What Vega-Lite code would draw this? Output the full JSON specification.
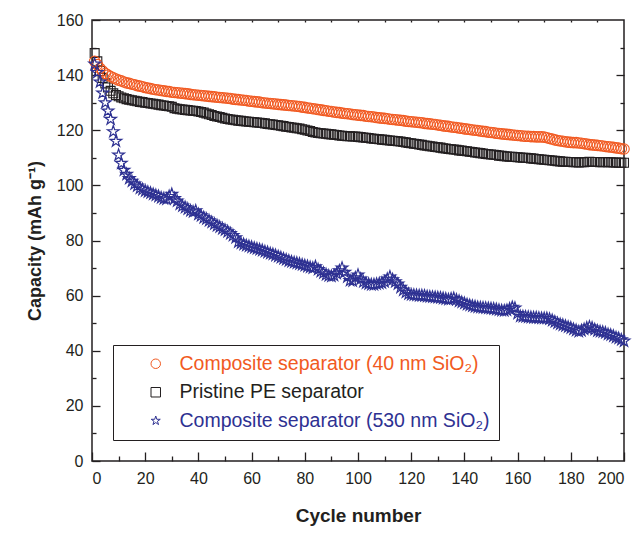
{
"$schema": "https://vega.github.io/schema/vega-lite/v6.json",
"width": 532, "height": 441,
"autosize": "none",
"padding": {"left": 92, "top": 20, "right": 16, "bottom": 72},
"background": "white",
"config": {"view": {"stroke": "#231f20", "strokeWidth": 1.5}, "font": "Liberation Sans",
"axis": {"domain": false, "grid": false, "ticks": true, "zindex": 1, "tickColor": "#231f20", "tickWidth": 1.3, "tickOpacity": 1, "labelColor": "#231f20", "titleColor": "#231f20"}},
"data": {"values": [
{"c":1,"c40":145.0,"pe":148.0,"c530":144.0},{"c":2,"c40":143.8,"pe":145.0,"c530":141.0},{"c":3,"c40":142.5,"pe":141.5,"c530":137.5},{"c":4,"c40":141.5,"pe":139.0,"c530":133.5},{"c":5,"c40":140.6,"pe":137.0,"c530":130.0},
{"c":6,"c40":140.0,"pe":135.5,"c530":127.0},{"c":7,"c40":139.5,"pe":134.3,"c530":124.0},{"c":8,"c40":139.0,"pe":133.4,"c530":119.5},{"c":9,"c40":138.6,"pe":132.8,"c530":116.0},{"c":10,"c40":138.2,"pe":132.3,"c530":111.0},
{"c":11,"c40":137.9,"pe":131.9,"c530":108.0},{"c":12,"c40":137.5,"pe":131.6,"c530":105.5},{"c":13,"c40":137.2,"pe":131.3,"c530":104.0},{"c":14,"c40":137.0,"pe":131.1,"c530":102.5},{"c":15,"c40":136.7,"pe":130.9,"c530":101.5},
{"c":16,"c40":136.5,"pe":130.7,"c530":100.5},{"c":17,"c40":136.2,"pe":130.5,"c530":99.8},{"c":18,"c40":136.0,"pe":130.3,"c530":99.0},{"c":19,"c40":135.8,"pe":130.2,"c530":98.5},{"c":20,"c40":135.5,"pe":130.0,"c530":98.0},
{"c":21,"c40":135.3,"pe":129.9,"c530":97.6},{"c":22,"c40":135.1,"pe":129.7,"c530":97.2},{"c":23,"c40":134.9,"pe":129.6,"c530":96.8},{"c":24,"c40":134.7,"pe":129.4,"c530":96.4},{"c":25,"c40":134.6,"pe":129.3,"c530":96.0},
{"c":26,"c40":134.4,"pe":129.1,"c530":95.5},{"c":27,"c40":134.3,"pe":129.0,"c530":95.2},{"c":28,"c40":134.1,"pe":128.8,"c530":95.0},{"c":29,"c40":134.0,"pe":128.7,"c530":96.0},{"c":30,"c40":133.8,"pe":128.5,"c530":96.8},
{"c":31,"c40":133.7,"pe":128.0,"c530":95.2},{"c":32,"c40":133.6,"pe":127.8,"c530":94.3},{"c":33,"c40":133.5,"pe":127.6,"c530":93.2},{"c":34,"c40":133.4,"pe":127.5,"c530":92.5},{"c":35,"c40":133.3,"pe":127.4,"c530":92.0},
{"c":36,"c40":133.2,"pe":127.3,"c530":91.4},{"c":37,"c40":133.0,"pe":127.2,"c530":90.8},{"c":38,"c40":132.9,"pe":127.1,"c530":90.4},{"c":39,"c40":132.8,"pe":127.0,"c530":90.8},{"c":40,"c40":132.7,"pe":126.8,"c530":89.5},
{"c":41,"c40":132.6,"pe":126.6,"c530":89.0},{"c":42,"c40":132.5,"pe":126.4,"c530":88.3},{"c":43,"c40":132.4,"pe":126.1,"c530":87.8},{"c":44,"c40":132.3,"pe":125.8,"c530":87.2},{"c":45,"c40":132.2,"pe":125.5,"c530":86.6},
{"c":46,"c40":132.1,"pe":125.2,"c530":86.0},{"c":47,"c40":132.0,"pe":125.0,"c530":85.4},{"c":48,"c40":131.9,"pe":124.8,"c530":84.9},{"c":49,"c40":131.8,"pe":124.5,"c530":84.3},{"c":50,"c40":131.7,"pe":124.3,"c530":83.8},
{"c":51,"c40":131.6,"pe":124.1,"c530":83.2},{"c":52,"c40":131.5,"pe":123.9,"c530":82.5},{"c":53,"c40":131.3,"pe":123.8,"c530":81.8},{"c":54,"c40":131.2,"pe":123.6,"c530":81.0},{"c":55,"c40":131.1,"pe":123.5,"c530":79.5},
{"c":56,"c40":131.0,"pe":123.4,"c530":79.0},{"c":57,"c40":130.9,"pe":123.3,"c530":78.6},{"c":58,"c40":130.8,"pe":123.2,"c530":78.2},{"c":59,"c40":130.6,"pe":123.1,"c530":77.9},{"c":60,"c40":130.5,"pe":123.0,"c530":77.6},
{"c":61,"c40":130.4,"pe":122.9,"c530":77.3},{"c":62,"c40":130.3,"pe":122.8,"c530":77.0},{"c":63,"c40":130.2,"pe":122.7,"c530":76.7},{"c":64,"c40":130.0,"pe":122.6,"c530":76.4},{"c":65,"c40":129.9,"pe":122.5,"c530":76.0},
{"c":66,"c40":129.8,"pe":122.3,"c530":75.7},{"c":67,"c40":129.7,"pe":122.2,"c530":75.3},{"c":68,"c40":129.6,"pe":122.1,"c530":75.0},{"c":69,"c40":129.5,"pe":121.9,"c530":74.6},{"c":70,"c40":129.4,"pe":121.8,"c530":74.2},
{"c":71,"c40":129.3,"pe":121.6,"c530":73.8},{"c":72,"c40":129.2,"pe":121.5,"c530":73.4},{"c":73,"c40":129.1,"pe":121.3,"c530":73.0},{"c":74,"c40":129.0,"pe":121.2,"c530":72.6},{"c":75,"c40":128.9,"pe":121.0,"c530":72.3},
{"c":76,"c40":128.8,"pe":120.9,"c530":72.0},{"c":77,"c40":128.7,"pe":120.7,"c530":71.8},{"c":78,"c40":128.6,"pe":120.6,"c530":71.5},{"c":79,"c40":128.4,"pe":120.4,"c530":71.2},{"c":80,"c40":128.3,"pe":120.2,"c530":70.9},
{"c":81,"c40":128.1,"pe":119.9,"c530":70.6},{"c":82,"c40":128.0,"pe":119.7,"c530":70.3},{"c":83,"c40":127.8,"pe":119.4,"c530":70.0},{"c":84,"c40":127.7,"pe":119.2,"c530":70.5},{"c":85,"c40":127.5,"pe":119.0,"c530":69.5},
{"c":86,"c40":127.4,"pe":118.9,"c530":68.8},{"c":87,"c40":127.2,"pe":118.8,"c530":68.2},{"c":88,"c40":127.1,"pe":118.7,"c530":67.6},{"c":89,"c40":126.9,"pe":118.6,"c530":67.2},{"c":90,"c40":126.8,"pe":118.5,"c530":67.0},
{"c":91,"c40":126.6,"pe":118.4,"c530":67.3},{"c":92,"c40":126.5,"pe":118.3,"c530":68.0},{"c":93,"c40":126.4,"pe":118.1,"c530":69.0},{"c":94,"c40":126.2,"pe":118.0,"c530":70.0},{"c":95,"c40":126.1,"pe":117.9,"c530":68.5},
{"c":96,"c40":126.0,"pe":117.8,"c530":66.8},{"c":97,"c40":125.9,"pe":117.8,"c530":65.5},{"c":98,"c40":125.7,"pe":117.7,"c530":65.3},{"c":99,"c40":125.6,"pe":117.7,"c530":66.5},{"c":100,"c40":125.5,"pe":117.6,"c530":67.5},
{"c":101,"c40":125.4,"pe":117.5,"c530":66.0},{"c":102,"c40":125.3,"pe":117.4,"c530":65.0},{"c":103,"c40":125.1,"pe":117.3,"c530":64.5},{"c":104,"c40":125.0,"pe":117.2,"c530":64.2},{"c":105,"c40":124.9,"pe":117.0,"c530":64.0},
{"c":106,"c40":124.8,"pe":116.9,"c530":64.0},{"c":107,"c40":124.6,"pe":116.8,"c530":64.2},{"c":108,"c40":124.5,"pe":116.7,"c530":64.4},{"c":109,"c40":124.4,"pe":116.6,"c530":64.6},{"c":110,"c40":124.3,"pe":116.5,"c530":65.0},
{"c":111,"c40":124.2,"pe":116.4,"c530":66.0},{"c":112,"c40":124.0,"pe":116.3,"c530":66.8},{"c":113,"c40":123.9,"pe":116.2,"c530":65.8},{"c":114,"c40":123.8,"pe":116.1,"c530":65.0},{"c":115,"c40":123.7,"pe":116.0,"c530":64.2},
{"c":116,"c40":123.6,"pe":115.9,"c530":63.0},{"c":117,"c40":123.5,"pe":115.7,"c530":62.0},{"c":118,"c40":123.3,"pe":115.6,"c530":61.2},{"c":119,"c40":123.2,"pe":115.4,"c530":60.6},{"c":120,"c40":123.1,"pe":115.3,"c530":60.3},
{"c":121,"c40":123.0,"pe":115.1,"c530":60.2},{"c":122,"c40":122.9,"pe":115.0,"c530":60.1},{"c":123,"c40":122.8,"pe":114.8,"c530":60.0},{"c":124,"c40":122.7,"pe":114.7,"c530":60.0},{"c":125,"c40":122.5,"pe":114.5,"c530":59.9},
{"c":126,"c40":122.4,"pe":114.4,"c530":59.7},{"c":127,"c40":122.3,"pe":114.2,"c530":59.6},{"c":128,"c40":122.2,"pe":114.1,"c530":59.5},{"c":129,"c40":122.1,"pe":113.9,"c530":59.4},{"c":130,"c40":121.9,"pe":113.8,"c530":59.3},
{"c":131,"c40":121.8,"pe":113.7,"c530":59.2},{"c":132,"c40":121.6,"pe":113.5,"c530":59.0},{"c":133,"c40":121.5,"pe":113.4,"c530":58.8},{"c":134,"c40":121.4,"pe":113.2,"c530":58.6},{"c":135,"c40":121.2,"pe":113.1,"c530":58.8},
{"c":136,"c40":121.1,"pe":113.0,"c530":59.0},{"c":137,"c40":121.0,"pe":112.9,"c530":58.5},{"c":138,"c40":120.8,"pe":112.7,"c530":58.0},{"c":139,"c40":120.7,"pe":112.6,"c530":57.6},{"c":140,"c40":120.5,"pe":112.5,"c530":57.2},
{"c":141,"c40":120.4,"pe":112.4,"c530":56.8},{"c":142,"c40":120.3,"pe":112.2,"c530":56.5},{"c":143,"c40":120.1,"pe":112.1,"c530":56.2},{"c":144,"c40":120.0,"pe":111.9,"c530":56.0},{"c":145,"c40":119.9,"pe":111.8,"c530":55.8},
{"c":146,"c40":119.7,"pe":111.7,"c530":55.7},{"c":147,"c40":119.6,"pe":111.6,"c530":55.6},{"c":148,"c40":119.5,"pe":111.4,"c530":55.5},{"c":149,"c40":119.3,"pe":111.3,"c530":55.4},{"c":150,"c40":119.2,"pe":111.2,"c530":55.3},
{"c":151,"c40":119.1,"pe":111.1,"c530":55.2},{"c":152,"c40":118.9,"pe":111.0,"c530":55.0},{"c":153,"c40":118.8,"pe":110.8,"c530":54.8},{"c":154,"c40":118.7,"pe":110.7,"c530":54.6},{"c":155,"c40":118.6,"pe":110.6,"c530":54.5},
{"c":156,"c40":118.5,"pe":110.5,"c530":54.7},{"c":157,"c40":118.4,"pe":110.4,"c530":55.2},{"c":158,"c40":118.3,"pe":110.4,"c530":55.8},{"c":159,"c40":118.2,"pe":110.3,"c530":55.5},{"c":160,"c40":118.1,"pe":110.2,"c530":53.5},
{"c":161,"c40":118.0,"pe":110.1,"c530":52.5},{"c":162,"c40":117.9,"pe":110.0,"c530":52.4},{"c":163,"c40":117.8,"pe":110.0,"c530":52.3},{"c":164,"c40":117.8,"pe":109.9,"c530":52.2},{"c":165,"c40":117.7,"pe":109.8,"c530":52.1},
{"c":166,"c40":117.7,"pe":109.7,"c530":52.0},{"c":167,"c40":117.6,"pe":109.6,"c530":52.0},{"c":168,"c40":117.6,"pe":109.5,"c530":51.9},{"c":169,"c40":117.6,"pe":109.4,"c530":51.8},{"c":170,"c40":117.5,"pe":109.3,"c530":51.8},
{"c":171,"c40":117.3,"pe":109.2,"c530":51.8},{"c":172,"c40":117.0,"pe":109.1,"c530":51.5},{"c":173,"c40":116.8,"pe":109.0,"c530":51.0},{"c":174,"c40":116.5,"pe":108.9,"c530":50.5},{"c":175,"c40":116.3,"pe":108.8,"c530":50.0},
{"c":176,"c40":116.1,"pe":108.7,"c530":49.6},{"c":177,"c40":116.0,"pe":108.6,"c530":49.3},{"c":178,"c40":115.8,"pe":108.6,"c530":49.0},{"c":179,"c40":115.7,"pe":108.5,"c530":48.6},{"c":180,"c40":115.6,"pe":108.5,"c530":48.3},
{"c":181,"c40":115.5,"pe":108.4,"c530":47.8},{"c":182,"c40":115.5,"pe":108.4,"c530":47.4},{"c":183,"c40":115.4,"pe":108.3,"c530":47.0},{"c":184,"c40":115.3,"pe":108.4,"c530":47.3},{"c":185,"c40":115.1,"pe":108.4,"c530":47.8},
{"c":186,"c40":115.0,"pe":108.5,"c530":48.3},{"c":187,"c40":114.8,"pe":108.6,"c530":48.7},{"c":188,"c40":114.7,"pe":108.5,"c530":48.3},{"c":189,"c40":114.6,"pe":108.5,"c530":47.7},{"c":190,"c40":114.5,"pe":108.5,"c530":47.2},
{"c":191,"c40":114.4,"pe":108.4,"c530":47.0},{"c":192,"c40":114.3,"pe":108.4,"c530":46.8},{"c":193,"c40":114.1,"pe":108.5,"c530":46.5},{"c":194,"c40":114.0,"pe":108.4,"c530":46.0},{"c":195,"c40":113.9,"pe":108.4,"c530":45.7},
{"c":196,"c40":113.8,"pe":108.3,"c530":45.3},{"c":197,"c40":113.6,"pe":108.3,"c530":44.8},{"c":198,"c40":113.5,"pe":108.2,"c530":44.5},{"c":199,"c40":113.3,"pe":108.2,"c530":44.0},{"c":200,"c40":113.2,"pe":108.2,"c530":43.5}
]},
"transform": [{"fold": ["c40", "pe", "c530"], "as": ["series", "cap"]}],
"layer": [
{
"transform": [{"filter": "datum.series === 'pe'"}],
"mark": {"type": "point", "filled": false, "strokeWidth": 1.1, "size": 80, "opacity": 1},
"encoding": {
"x": {"field": "c", "type": "quantitative", "scale": {"domain": [0, 200], "nice": false},
"axis": {"orient": "bottom", "values": [0,20,40,60,80,100,120,140,160,180,200],
"offset": -9, "tickSize": 9, "labelFontSize": 16, "labelPadding": 9,
"title": "Cycle number", "titleFontSize": 19, "titleFontWeight": "bold", "titlePadding": 20}},
"y": {"field": "cap", "type": "quantitative", "scale": {"domain": [0, 160], "nice": false},
"axis": {"orient": "left", "values": [0,20,40,60,80,100,120,140,160],
"offset": -8, "tickSize": 8, "labelFontSize": 16, "labelPadding": 9,
"title": "Capacity (mAh g⁻¹)", "titleFontSize": 18, "titleFontWeight": "bold", "titlePadding": 12}},
"color": {"field": "series", "type": "nominal", "title": null,
"scale": {"domain": ["c40", "pe", "c530"], "range": ["#f15a22", "#231f20", "#2e3192"]},
"legend": {"orient": "none", "legendX": 21, "legendY": 325, "padding": 9, "symbolOffset": 24, "rowPadding": 7.5,
"strokeColor": "#231f20", "fillColor": "white", "symbolSize": 90, "symbolStrokeWidth": 1,
"labelFontSize": 19.5, "labelLimit": 600, "labelOffset": 14,
"labelColor": {"expr": "datum.value === 'c40' ? '#f15a22' : datum.value === 'c530' ? '#2e3192' : '#231f20'"},
"labelExpr": "datum.value === 'c40' ? 'Composite separator (40 nm SiO₂)' : datum.value === 'pe' ? 'Pristine PE separator' : 'Composite separator (530 nm SiO₂)\u00a0\u00a0\u00a0'"}},
"shape": {"field": "series", "type": "nominal", "title": null,
"scale": {"domain": ["c40", "pe", "c530"], "range": ["circle", "square", "M0,-1L0.225,-0.309L0.951,-0.309L0.363,0.118L0.588,0.809L0,0.382L-0.588,0.809L-0.363,0.118L-0.951,-0.309L-0.225,-0.309Z"]}}
}
},
{
"transform": [{"filter": "datum.series === 'c40'"}],
"mark": {"type": "point", "filled": false, "strokeWidth": 1.1, "size": 110, "opacity": 1},
"encoding": {
"x": {"field": "c", "type": "quantitative",
"axis": {"orient": "bottom", "values": [10,30,50,70,90,110,130,150,170,190], "labels": false, "offset": -5, "tickSize": 5, "title": null}},
"y": {"field": "cap", "type": "quantitative",
"axis": {"orient": "left", "values": [10,30,50,70,90,110,130,150], "labels": false, "offset": -4, "tickSize": 4, "title": null}},
"color": {"field": "series", "type": "nominal"},
"shape": {"field": "series", "type": "nominal"}
}
},
{
"transform": [{"filter": "datum.series === 'c530'"}],
"mark": {"type": "point", "filled": false, "strokeWidth": 1.2, "size": 150, "opacity": 1},
"encoding": {
"x": {"field": "c", "type": "quantitative",
"axis": {"orient": "top", "values": [10,20,30,40,50,60,70,80,90,100,110,120,130,140,150,160,170,180,190], "labels": false, "offset": -2, "tickSize": 2, "title": null}},
"y": {"field": "cap", "type": "quantitative",
"axis": {"orient": "right", "values": [20,40,60,80,100,120,140], "labels": false, "offset": -8, "tickSize": 8, "title": null}},
"color": {"field": "series", "type": "nominal"},
"shape": {"field": "series", "type": "nominal"}
}
},
{
"transform": [{"filter": "datum.series === 'c530'"}],
"mark": {"type": "point", "opacity": 0},
"encoding": {
"x": {"field": "c", "type": "quantitative", "axis": null},
"y": {"field": "cap", "type": "quantitative",
"axis": {"orient": "right", "values": [10,30,50,70,90,110,130,150], "labels": false, "offset": -4, "tickSize": 4, "title": null}}
}
}
],
"resolve": {"axis": {"x": "independent", "y": "independent"}}
}
